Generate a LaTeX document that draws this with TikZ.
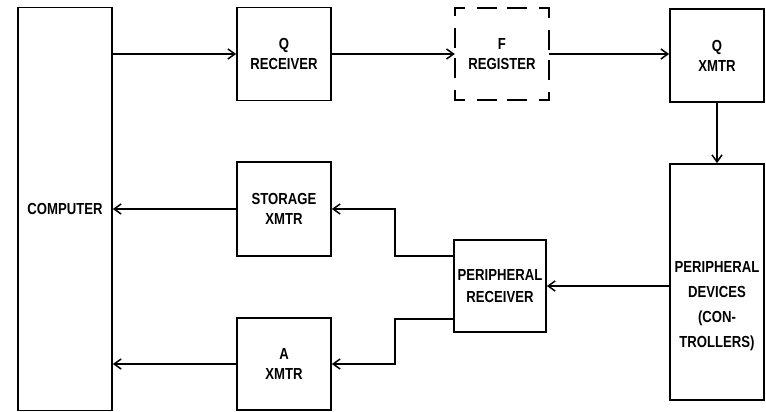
\documentclass[tikz,border=0pt]{standalone}
\usepackage{fontspec}
\setmainfont{Liberation Sans}[FakeStretch=0.82]
\usetikzlibrary{arrows.meta,calc}
\begin{document}
\begin{tikzpicture}[x=1pt,y=-1pt,
  box/.style={draw,line width=1.7pt,inner sep=0pt,align=center,font=\fontsize{16}{20}\selectfont\bfseries},
  lbl/.style={inner sep=0pt,align=center,font=\fontsize{16}{20}\selectfont\bfseries},
  conn/.style={line width=1.6pt,-{Straight Barb[length=7pt,width=10pt,line width=1.5pt]}},
  dside/.style={line width=1.7pt,line cap=rect,dash pattern=on 9pt off 14pt on 18pt off 12pt on 18pt off 14pt on 9pt off 200pt}]
\useasboundingbox (0,0) rectangle (766,412);
\node[box,minimum width=94pt,minimum height=403pt] (comp) at (65,209) {COMPUTER};
\node[box,minimum width=94pt,minimum height=93pt] (qrec) at (284,54) {Q\\RECEIVER};
\node[lbl,minimum width=94pt,minimum height=92pt] (freg) at (502,54) {F\\REGISTER};
\node[box,minimum width=94pt,minimum height=93pt] (qx) at (717,55.5) {Q\\XMTR};
\node[box,minimum width=94pt,minimum height=236pt] (pd) at (717,282) {};
\node[lbl,font=\fontsize{16}{25}\selectfont\bfseries] (pdtext) at (717,306) {PERIPHERAL\\DEVICES\\(CON-\\TROLLERS)};
\node[box,minimum width=94pt,minimum height=94pt] (stor) at (284,209) {STORAGE\\XMTR};
\node[box,minimum width=92pt,minimum height=92pt,font=\fontsize{16}{22}\selectfont\bfseries] (pr) at (500,286) {PERIPHERAL\\RECEIVER};
\node[box,minimum width=94pt,minimum height=92pt] (ax) at (284,364) {A\\XMTR};
% dashed F register outline
\draw[dside] (freg.north west) -- (freg.north east);
\draw[dside] (freg.north east) -- (freg.south east);
\draw[dside] (freg.south east) -- (freg.south west);
\draw[dside] (freg.south west) -- (freg.north west);
\coordinate (pu) at (395,256);
\coordinate (pl) at (395,319);
\draw[conn] (comp.east |- qrec.west) -- (qrec.west);
\draw[conn] (qrec.east) -- (freg.west);
\draw[conn] (freg.east) -- (freg.east -| qx.west);
\draw[conn] (qx.south) -- (pd.north);
\draw[conn] (pd.west |- pr.east) -- (pr.east);
\draw[conn] (pr.west |- pu) -- (pu) |- (stor.east);
\draw[conn] (pr.west |- pl) -- (pl) |- (ax.east);
\draw[conn] (stor.west) -- (stor.west -| comp.east);
\draw[conn] (ax.west) -- (ax.west -| comp.east);
\end{tikzpicture}
\end{document}
